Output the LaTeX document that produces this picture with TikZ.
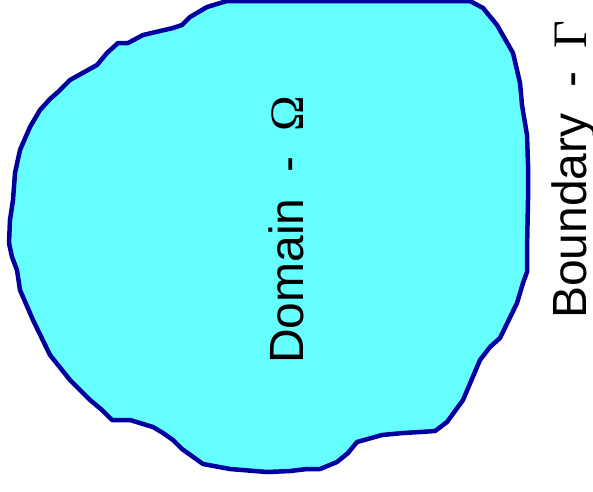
\documentclass[tikz,border=0pt]{standalone}
\usepackage{fontspec}
\setmainfont{Liberation Sans}
\newfontfamily\grk{Liberation Serif}
\definecolor{domfill}{HTML}{66FFFF}
\definecolor{bdry}{HTML}{0000A0}
\tikzset{
  blob/.style={fill=domfill, draw=bdry, line width=4.5pt, line join=round},
  lbl/.style={rotate=90, anchor=base west, inner sep=0pt, font=\fontsize{48}{58}\selectfont}
}
\begin{document}
\begin{tikzpicture}[x=1pt,y=-1pt]
\useasboundingbox (0,0) rectangle (593,491);
\draw[blob] (240,1) -- (470,1) -- (483,8) -- (497,25) -- (513,53) -- (520,83) -- (522,105) -- (527,135) -- (528,165) -- (528,200) -- (527,250) -- (527,272) -- (523,283) -- (517,303) -- (500,338) -- (490,347) -- (480,360) -- (463,400) -- (447,422) -- (435,431) -- (420,432) -- (403,433) -- (382,435) -- (357,442) -- (348,453) -- (337,462) -- (320,469) -- (307,469) -- (290,471) -- (267,472) -- (230,469) -- (203,464) -- (182,449) -- (173,440) -- (163,433) -- (153,427) -- (130,420) -- (112,420) -- (102,410) -- (90,400) -- (70,380) -- (50,355) -- (33,320) -- (20,290) -- (17,270) -- (12,257) -- (9,243) -- (10,220) -- (13,200) -- (15,173) -- (20,150) -- (30,127) -- (40,110) -- (50,99) -- (58,92) -- (70,80) -- (88,70) -- (97,65) -- (107,53) -- (118,43) -- (128,43) -- (143,35) -- (173,28) -- (182,25) -- (190,17) -- (207,7) -- (227,1) -- cycle;
\node[lbl] (domain) at (303,364) {Domain\hspace{26pt}-\hspace{25pt}{\grk Ω}};
\node[lbl] (boundary) at (586,319) {Boundary\hspace{26pt}-\hspace{23pt}{\grk Γ}};
\end{tikzpicture}
\end{document}
